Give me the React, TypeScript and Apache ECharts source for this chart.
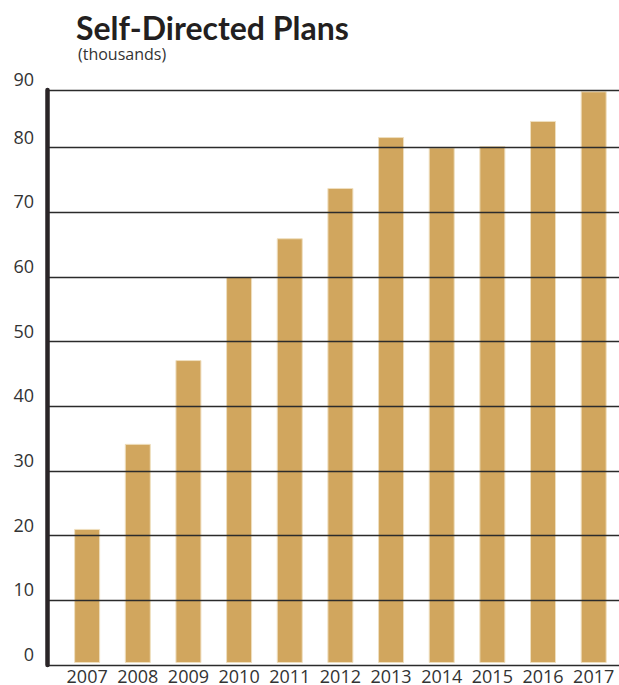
import React, { useEffect, useRef } from "react";
import * as echarts from "echarts";

const YEARS = ["2007", "2008", "2009", "2010", "2011", "2012", "2013", "2014", "2015", "2016", "2017"];
const PLANS = [20.8, 34.0, 47.0, 59.9, 65.9, 73.7, 81.6, 80.0, 80.2, 84.1, 88.7];
const Y_TICKS = [0, 10, 20, 30, 40, 50, 60, 70, 80, 90];
const TITLE = "Self-Directed Plans";
const SUBTITLE = "(thousands)";

// the top rule of the original sits slightly lower than a uniform 90 would
const Y_TOP = 88.9;

const TITLE_FONT = "Lato";
const FONT = "Open Sans";

export default function App() {
  const ref = useRef<HTMLDivElement>(null);
  useEffect(() => {
    document.body.style.margin = "0";
    if (!ref.current) return;
    const chart = echarts.init(ref.current, null, { renderer: "svg" });
    const tickLabel = (v: number) => {
      const near = Y_TICKS.reduce((a, b) => (Math.abs(b - v) < Math.abs(a - v) ? b : a), Y_TICKS[0]);
      return String(near);
    };
    chart.setOption({
      animation: false,
      backgroundColor: "#ffffff",
      title: [
        {
          text: TITLE,
          left: 71,
          top: 7,
          textStyle: { fontFamily: TITLE_FONT, fontSize: 32, lineHeight: 30, fontWeight: "bold", color: "#231f20" },
        },
        {
          text: SUBTITLE,
          left: 73,
          top: 41,
          textStyle: { fontFamily: FONT, fontSize: 16, lineHeight: 16, fontWeight: "normal", color: "#333333" },
        },
      ],
      grid: [
        { left: 47, right: 0, top: 90, bottom: 20 },
        { left: 61.8, width: 564.85, top: 90, bottom: 20 },
      ],
      xAxis: [
        { type: "value", gridIndex: 0, min: 0, max: 1, show: false },
        {
          type: "category",
          gridIndex: 1,
          data: YEARS,
          axisLine: { show: false },
          axisTick: { show: false },
          axisLabel: { margin: 6, fontFamily: FONT, fontSize: 18, lineHeight: 14, color: "#333333", interval: 0 },
        },
      ],
      yAxis: [
        {
          type: "value",
          gridIndex: 0,
          min: 0,
          max: Y_TOP,
          interval: 10,
          z: 5,
          axisLine: { show: true, lineStyle: { color: "#2a2527", width: 4.5 } },
          axisTick: { show: false },
          splitLine: { show: true, lineStyle: { color: "#2b2b2b", width: 1.4 } },
          axisLabel: {
            margin: 13,
            fontFamily: FONT,
            fontSize: 18,
            color: "#333333",
            align: "right",
            verticalAlign: "bottom",
            lineHeight: 22,
            formatter: tickLabel,
          },
        },
        { type: "value", gridIndex: 1, min: 0, max: Y_TOP, show: false },
      ],
      series: [
        {
          type: "bar",
          xAxisIndex: 1,
          yAxisIndex: 1,
          data: PLANS,
          barWidth: 26,
          z: 2,
          itemStyle: { color: "#d1a65e", borderColor: "#efdfbf", borderWidth: 1 },
        },
      ],
    });
    return () => chart.dispose();
  }, []);
  return <div ref={ref} style={{ width: 619, height: 685 }} />;
}
